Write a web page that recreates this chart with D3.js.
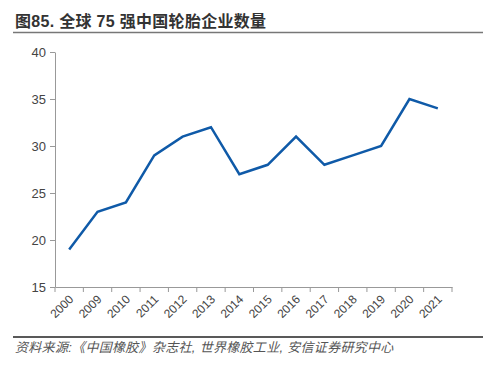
<!DOCTYPE html>
<html>
<head>
<meta charset="utf-8">
<script src="https://cdn.jsdelivr.net/npm/d3@7"></script>
<style>
  body { margin: 0; background: #fff; }
  svg { display: block; font-family: "Liberation Sans", Arial, "Noto Sans CJK SC", sans-serif; }
</style>
</head>
<body>
<div id="chart"></div>
<script>
"use strict";
// data
let years = ["2000", "2009", "2010", "2011", "2012", "2013", "2014", "2015", "2016", "2017", "2018", "2019", "2020", "2021"];
let counts = [19, 23, 24, 29, 31, 32, 27, 28, 31, 28, 29, 30, 35, 34];
let yTicks = [15, 20, 25, 30, 35, 40];

let titleText = "图85. 全球 75 强中国轮胎企业数量";
let sourceText = "资料来源:《中国橡胶》杂志社, 世界橡胶工业, 安信证券研究中心";

let W = 491, H = 370;
let margin = { top: 52, left: 55, right: 39, bottom: 83 };
let width = W - margin.left - margin.right,
    height = H - margin.top - margin.bottom;

let svg = d3.select("#chart").append("svg")
    .attr("width", W)
    .attr("height", H);

// title + rule
svg.append("text")
    .attr("x", 15)
    .attr("y", 27)
    .style("font-size", "16px")
    .style("font-weight", "bold")
    .style("letter-spacing", "0.3px")
    .style("fill", "#333")
    .text(titleText);
svg.append("line")
    .attr("x1", 13).attr("x2", 483)
    .attr("y1", 32.5).attr("y2", 32.5)
    .style("stroke", "#777").style("stroke-width", 1.5);

let g = svg.append("g")
    .attr("transform", "translate(" + margin.left + "," + margin.top + ")");

let x = d3.scaleBand()
    .domain(years)
    .range([0, width]);

let y = d3.scaleLinear()
    .domain([15, 40])
    .range([height, 0]);

// Y axis
let yAxis = g.append("g")
    .call(d3.axisLeft(y).tickValues(yTicks).tickSize(5).tickPadding(4).tickSizeOuter(0));
yAxis.select(".domain").style("stroke", "#999");
yAxis.selectAll(".tick line").style("stroke", "#999");
yAxis.selectAll(".tick text")
    .style("font-size", "13px")
    .style("fill", "#444")
    .style("font-family", "Liberation Sans, Arial, sans-serif");

// X axis, ticks at band edges
let xAxis = g.append("g")
    .attr("transform", "translate(0," + height + ")")
    .call(d3.axisBottom(x).tickSize(0).tickPadding(0).tickSizeOuter(0));
xAxis.select(".domain").style("stroke", "#999");
xAxis.selectAll(".tick text")
    .attr("transform", "translate(2,10) rotate(-45)")
    .attr("dy", "0.35em")
    .style("text-anchor", "end")
    .style("font-size", "12px")
    .style("fill", "#444")
    .style("font-family", "Liberation Sans, Arial, sans-serif");

let edges = years.map(d => x(d)).concat([x.range()[1]]);
g.append("g")
    .selectAll("line")
    .data(edges)
    .enter()
    .append("line")
    .attr("x1", d => d).attr("x2", d => d)
    .attr("y1", height).attr("y2", height + 5)
    .style("stroke", "#999");

// line series
let line = d3.line()
    .x((d, i) => x(years[i]) + x.bandwidth() / 2)
    .y(d => y(d));

g.append("path")
    .datum(counts)
    .attr("d", line)
    .style("fill", "none")
    .style("stroke", "#0f5aa8")
    .style("stroke-width", 2.5)
    .style("stroke-linejoin", "miter");

// bottom rule + source
svg.append("line")
    .attr("x1", 13).attr("x2", 483)
    .attr("y1", 337).attr("y2", 337)
    .style("stroke", "#222").style("stroke-width", 1.5);
svg.append("text")
    .attr("x", 15)
    .attr("y", 352)
    .style("font-size", "13px")
    .style("font-style", "italic")
    .style("letter-spacing", "0.3px")
    .style("fill", "#555")
    .text(sourceText);
</script>
</body>
</html>
